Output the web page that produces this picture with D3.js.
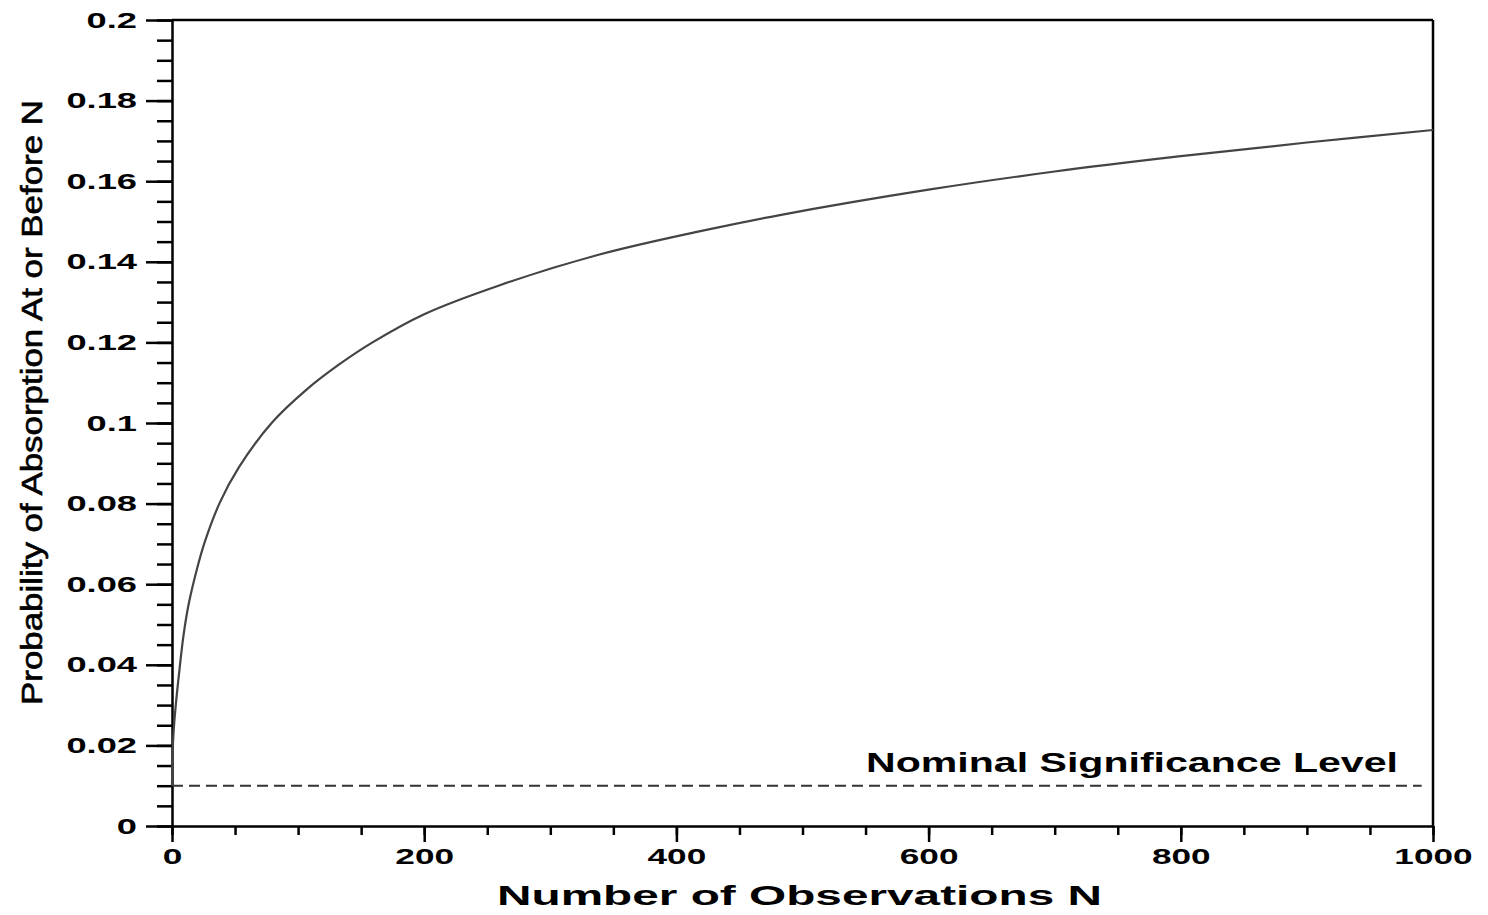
<!DOCTYPE html>
<html>
<head>
<meta charset="utf-8">
<script src="https://d3js.org/d3.v7.min.js"></script>
<style>
  body { margin: 0; background: #fff; }
  text { font-family: "Liberation Sans", Arial, sans-serif; font-weight: bold; fill: #000; }
  .axis path, .axis line { stroke: #000; stroke-width: 2.5px; }
</style>
</head>
<body>
<script>
// number of observations
const obsN = [0, 1, 3, 6, 9, 13, 20, 26, 38, 53, 79, 106, 132, 159, 200, 260, 339, 419, 482, 600, 700, 800, 900, 1000];
// probability of absorption at or before N
const absorbProb = [0.010, 0.022, 0.030, 0.039, 0.047, 0.0547, 0.064, 0.0705, 0.0803, 0.089, 0.1000, 0.1081, 0.1144, 0.1200, 0.127, 0.1342, 0.1418, 0.1476, 0.1516, 0.1579, 0.1624, 0.1662, 0.1696, 0.1727];
const nominalLevel = 0.01;
const nominalEnd = 991;
const xTicks = [0, 200, 400, 600, 800, 1000];
const yTicks = [0, 0.02, 0.04, 0.06, 0.08, 0.1, 0.12, 0.14, 0.16, 0.18, 0.2];

const margin = {top: 20, right: 55, bottom: 89, left: 172},
  width = 1488 - margin.left - margin.right,
  height = 915 - margin.top - margin.bottom;

const svg = d3.select("body").append("svg")
  .attr("width", 1488)
  .attr("height", 915);

const g = svg.append("g")
  .attr("transform", "translate(" + margin.left + "," + margin.top + ")");

const x = d3.scaleLinear().domain([0, 1000]).range([0, width]);
const y = d3.scaleLinear().domain([0, 0.2]).range([height, 0]);

// frame top and right
g.append("line").attr("x1", 0).attr("x2", width).attr("y1", 0).attr("y2", 0)
  .attr("stroke", "#000").attr("stroke-width", 2.5);
g.append("line").attr("x1", width).attr("x2", width).attr("y1", 0).attr("y2", height)
  .attr("stroke", "#000").attr("stroke-width", 2.5);

// minor ticks
g.append("g").attr("class", "axis")
  .call(d3.axisLeft(y).tickValues(d3.range(0, 0.2001, 0.005)).tickSize(15).tickFormat(""))
  .call(a => a.select(".domain").remove());
g.append("g").attr("class", "axis")
  .attr("transform", "translate(0," + height + ")")
  .call(d3.axisBottom(x).tickValues(d3.range(0, 1001, 50)).tickSize(9).tickFormat(""))
  .call(a => a.select(".domain").remove());

// major axes
g.append("g").attr("class", "axis")
  .call(d3.axisLeft(y).tickValues(yTicks).tickSize(26).tickSizeOuter(0).tickFormat(d => String(+d.toFixed(2))))
  .call(a => a.selectAll("text")
    .attr("x", null)
    .attr("transform", "translate(-35,0) scale(1.65,1)")
    .style("font-size", "22px"));

g.append("g").attr("class", "axis")
  .attr("transform", "translate(0," + height + ")")
  .call(d3.axisBottom(x).tickValues(xTicks).tickSize(16).tickSizeOuter(0).tickFormat(d3.format("d")))
  .call(a => a.selectAll("text")
    .attr("y", 0).attr("dy", null)
    .attr("transform", "translate(0,38) scale(1.6,1)")
    .style("font-size", "22px"));

// nominal significance level
g.append("line")
  .attr("x1", x(0)).attr("x2", x(nominalEnd))
  .attr("y1", y(nominalLevel)).attr("y2", y(nominalLevel))
  .attr("stroke", "#333").attr("stroke-width", 2)
  .attr("stroke-dasharray", "11,6");

g.append("text")
  .attr("x", 694).attr("y", y(nominalLevel) - 14)
  .attr("textLength", 532).attr("lengthAdjust", "spacingAndGlyphs")
  .style("font-size", "27px")
  .text("Nominal Significance Level");

// the curve
const line = d3.line()
  .x((d, i) => x(obsN[i]))
  .y(d => y(d))
  .curve(d3.curveCatmullRom.alpha(0.5));

g.append("path")
  .datum(absorbProb)
  .attr("fill", "none")
  .attr("stroke", "#444")
  .attr("stroke-width", 2.2)
  .attr("d", line);

// axis titles
svg.append("text")
  .attr("x", 497).attr("y", 905)
  .attr("textLength", 605).attr("lengthAdjust", "spacingAndGlyphs")
  .style("font-size", "28px")
  .text("Number of Observations N");

svg.append("text")
  .attr("transform", "translate(42,402.5) rotate(-90)")
  .attr("text-anchor", "middle")
  .attr("textLength", 605).attr("lengthAdjust", "spacingAndGlyphs")
  .style("font-size", "29px")
  .style("font-weight", "normal")
  .style("stroke", "#000").style("stroke-width", 0.6)
  .text("Probability of Absorption At or Before N");
</script>
</body>
</html>
